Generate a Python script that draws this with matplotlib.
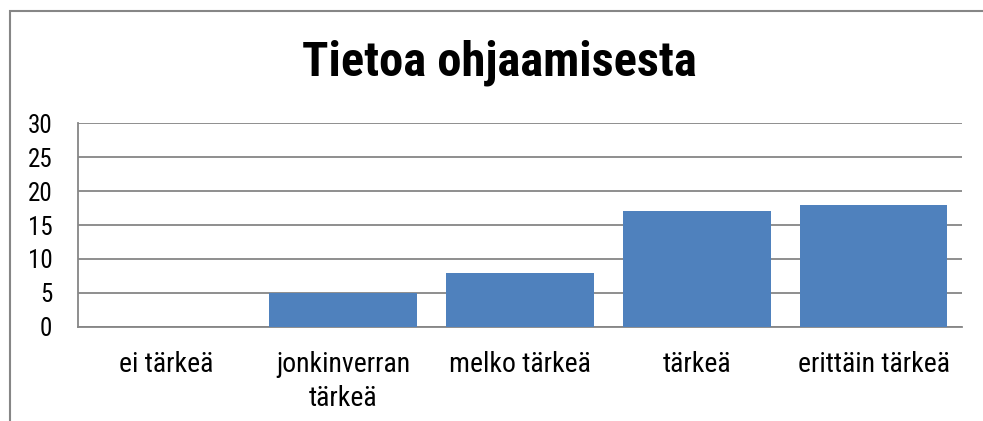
import matplotlib
matplotlib.use("Agg")
import matplotlib.pyplot as plt
from matplotlib.font_manager import fontManager
from matplotlib.patches import Rectangle

names = {f.name for f in fontManager.ttflist}
prefs = ["Roboto Condensed", "Liberation Sans Narrow", "Arial Narrow", "Pragati Narrow", "Carlito", "Lato"]
fam = next((p for p in prefs if p in names), "DejaVu Sans")
plt.rcParams['font.family'] = [fam, 'DejaVu Sans']

categories = ["ei tärkeä", "jonkinverran\ntärkeä", "melko tärkeä", "tärkeä", "erittäin tärkeä"]
values = [0, 5, 8, 17, 18]
yticks = [0, 5, 10, 15, 20, 25, 30]
title = "Tietoa ohjaamisesta"

W, H = 983, 421
fig = plt.figure(figsize=(W/100, H/100), dpi=100)
ax = fig.add_axes([78/W, 1-327/H, (962-78)/W, (327-123)/H])

x = list(range(len(categories)))
ax.bar(x, values, width=0.835, color="#4F81BD", zorder=3)
ax.set_xlim(-0.5, len(categories)-0.5)
ax.set_ylim(0, 30)
ax.set_yticks(yticks)
ax.set_yticklabels([str(v) for v in yticks], fontsize=18)
ax.set_xticks(x)
ax.set_xticklabels(categories, fontsize=20, linespacing=1.37, va="top")
ax.tick_params(axis='both', length=0)
ax.tick_params(axis='x', pad=17)
ax.tick_params(axis='y', pad=18.5)
ax.grid(axis='y', color="#868686", linewidth=1.3, zorder=0)
for s in ['top', 'right']:
    ax.spines[s].set_visible(False)
for s in ['left', 'bottom']:
    ax.spines[s].set_color("#868686")
    ax.spines[s].set_linewidth(1.3)

fig.text(499.5/W, 1-63/H, title, ha='center', va='center', fontsize=35, fontweight='bold')

fig.patches.append(Rectangle((9.5/W, -0.1), 1.2, 1-11/H+0.1, transform=fig.transFigure,
                             fill=False, edgecolor="#868686", linewidth=1.5))
fig.savefig("out.png", dpi=100)
